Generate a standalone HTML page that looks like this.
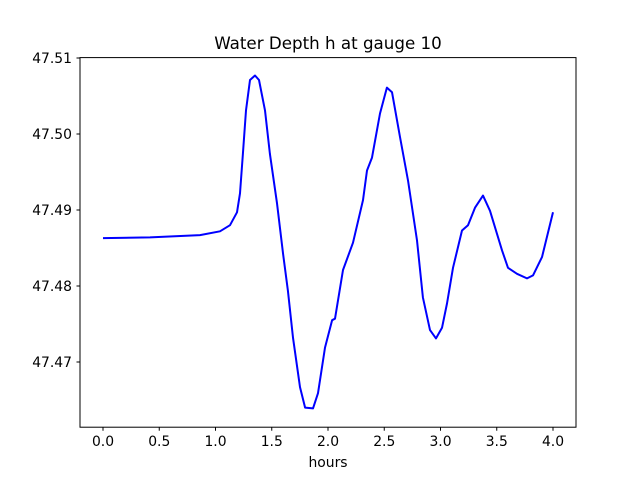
<!DOCTYPE html>
<html><head><meta charset="utf-8"><style>
body{margin:0;background:#fff;}
svg text{font-family:"DejaVu Sans","Liberation Sans",sans-serif;fill:#000;}
</style></head><body>
<svg id="chart" width="640" height="480" xmlns="http://www.w3.org/2000/svg">
<rect width="640" height="480" fill="#fff"/>
<text x="328" y="49" text-anchor="middle" font-size="16.7">Water Depth h at gauge 10</text>
<g id="ticks"></g>
<path id="line" fill="none" stroke="#0000ff" stroke-width="2" stroke-linejoin="round"/>
<rect x="80" y="57.6" width="496" height="369.6" fill="none" stroke="#000" stroke-width="1"/>
<text x="328" y="467" text-anchor="middle" font-size="13.9">hours</text>
</svg>
<script>
const hours=[0,0.418,0.862,1.04,1.129,1.191,1.218,1.244,1.271,1.307,1.351,1.387,1.44,1.484,1.547,1.6,1.644,1.689,1.751,1.796,1.867,1.911,1.973,2.036,2.062,2.133,2.222,2.311,2.347,2.391,2.462,2.524,2.569,2.64,2.711,2.791,2.844,2.907,2.96,3.013,3.058,3.111,3.191,3.244,3.307,3.378,3.44,3.547,3.6,3.68,3.769,3.822,3.902,4.0];
const depth=[47.4863,47.4864,47.4867,47.4872,47.4880,47.4897,47.4922,47.4974,47.5031,47.5071,47.5077,47.5071,47.5031,47.4974,47.4909,47.4843,47.4794,47.4732,47.4667,47.4640,47.4639,47.4659,47.4719,47.4755,47.4757,47.4821,47.4857,47.4913,47.4952,47.4969,47.5027,47.5061,47.5055,47.4996,47.4939,47.4860,47.4785,47.4742,47.4731,47.4745,47.4777,47.4824,47.4873,47.4880,47.4903,47.4919,47.4899,47.4847,47.4824,47.4816,47.4810,47.4814,47.4838,47.4897];
const xTicks=[0,0.5,1,1.5,2,2.5,3,3.5,4];
const xTickLabels=["0.0","0.5","1.0","1.5","2.0","2.5","3.0","3.5","4.0"];
const yTicks=[47.47,47.48,47.49,47.50,47.51];
const yTickLabels=["47.47","47.48","47.49","47.50","47.51"];
function X(t){return 103+(t-0)*112.5;}
function Y(h){return 362-(h-47.47)*7600;}
const ns="http://www.w3.org/2000/svg";
const g=document.getElementById('ticks');
xTicks.forEach((t,i)=>{
  const l=document.createElementNS(ns,'line');
  
  
  l.setAttribute('x1',X(t));l.setAttribute('x2',X(t));l.setAttribute('y1',427.2);l.setAttribute('y2',430.7);l.setAttribute('stroke','#000');
  g.appendChild(l);
  const tx=document.createElementNS(ns,'text');
  
  
  tx.setAttribute('x',X(t));tx.setAttribute('y',446);tx.setAttribute('text-anchor','middle');tx.setAttribute('font-size','13.9');
  tx.textContent=xTickLabels[i];g.appendChild(tx);
});
yTicks.forEach((v,i)=>{
  const l=document.createElementNS(ns,'line');
  
  
  l.setAttribute('x1',76.5);l.setAttribute('x2',80);l.setAttribute('y1',Y(v));l.setAttribute('y2',Y(v));l.setAttribute('stroke','#000');
  g.appendChild(l);
  const tx=document.createElementNS(ns,'text');
  
  
  tx.setAttribute('x',72);tx.setAttribute('y',Y(v)+5);tx.setAttribute('text-anchor','end');tx.setAttribute('font-size','13.9');
  tx.textContent=yTickLabels[i];g.appendChild(tx);
});
document.getElementById('line').setAttribute('d',hours.map((t,i)=>(i?'L':'M')+X(t).toFixed(1)+','+Y(depth[i]).toFixed(1)).join(' '));
</script>
</body></html>
